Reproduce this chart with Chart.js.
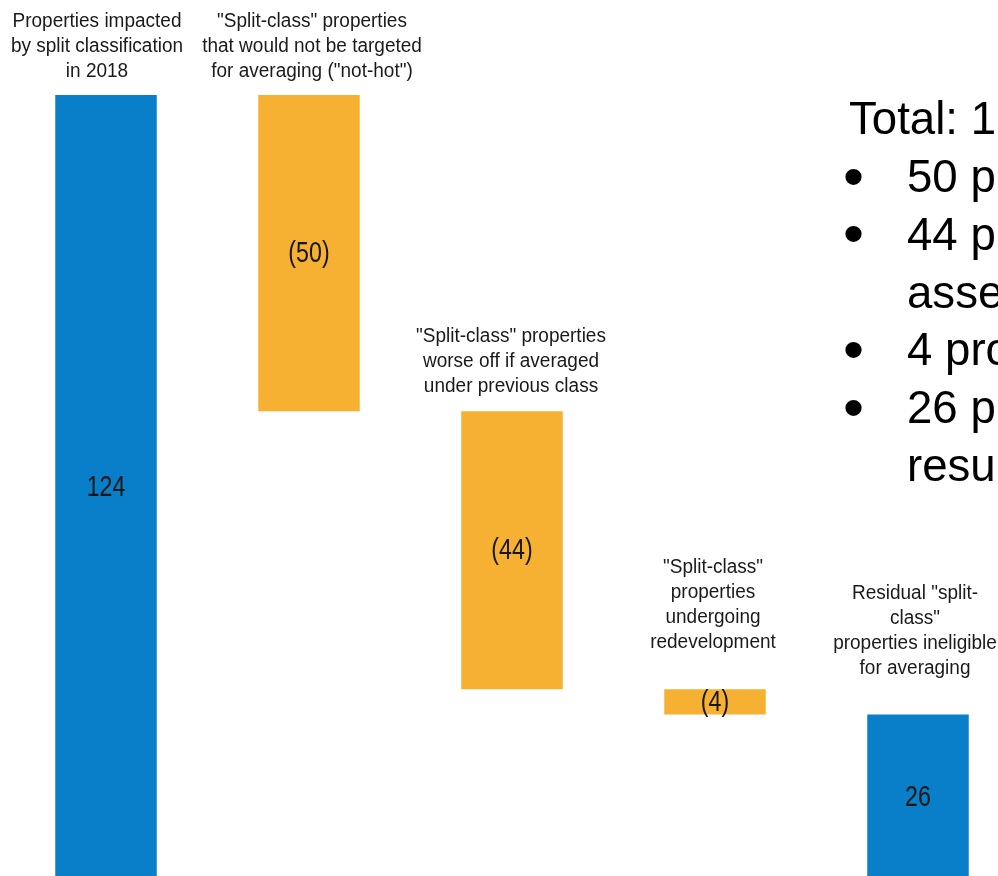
<!DOCTYPE html>
<html>
<head>
<meta charset="utf-8">
<title>Split-class properties</title>
<script src="https://cdn.jsdelivr.net/npm/chart.js@4/dist/chart.umd.min.js"></script>
<style>
  html, body { margin: 0; padding: 0; background: #fff; overflow: hidden; width: 998px; height: 876px; }
  #wrap { position: absolute; left: 0; top: 0; width: 1030px; height: 900px; }
  #notes { position: absolute; left: 0; top: 0; font-family: "Liberation Sans", Arial, sans-serif; color: #000; white-space: nowrap; }
  #notes .ln { position: absolute; font-size: 45.6px; line-height: 1; }
  #notes .dot { position: absolute; font-size: 60px; line-height: 1; }
</style>
</head>
<body>
<div id="wrap">
  <canvas id="waterfall" width="1030" height="900"></canvas>
</div>
<div id="notes"></div>

<script>
// categorias (linhas do rótulo acima de cada barra)
const categories = [
  ['Properties impacted', 'by split classification', 'in 2018'],
  ['"Split-class" properties', 'that would not be targeted', 'for averaging ("not-hot")'],
  ['"Split-class" properties', 'worse off if averaged', 'under previous class'],
  ['"Split-class"', 'properties', 'undergoing', 'redevelopment'],
  ['Residual "split-', 'class"', 'properties ineligible', 'for averaging']
];
const changes = [124, -50, -44, -4, 26];
const isTotal = [true, false, false, false, true];

// texto do quadro à direita
const noteLines = [
  { bullet: false, text: 'Total: 124 properties' },
  { bullet: true,  text: '50 properties not-hot' },
  { bullet: true,  text: '44 properties worse off' },
  { bullet: false, text: 'assessment' },
  { bullet: true,  text: '4 properties redeveloping' },
  { bullet: true,  text: '26 properties remaining' },
  { bullet: false, text: 'result' }
];

const COR_TOTAL = '#0a7fc9';
const COR_DELTA = '#f7b132';

// monta as barras flutuantes da cascata
let acumulado = 0;
const faixas = changes.map((v, i) => {
  if (isTotal[i]) { acumulado = v; return [0, v]; }
  const r = [acumulado, acumulado + v];
  acumulado += v;
  return r;
});

function formatValor(v) {
  return v < 0 ? '(' + Math.abs(v) + ')' : String(v);
}

// texto comprimido na horizontal (fonte "narrow")
function textoEstreito(ctx, txt, x, y, escala) {
  ctx.save();
  ctx.translate(x, y);
  ctx.scale(escala, 1);
  ctx.fillText(txt, 0, 0);
  ctx.restore();
}

// rótulos: categoria acima da barra e valor no meio
const rotulosCascata = {
  id: 'rotulosCascata',
  afterDatasetsDraw(chart, args, opts) {
    const ctx = chart.ctx;
    const meta = chart.getDatasetMeta(0);
    ctx.save();
    ctx.textAlign = 'center';
    meta.data.forEach((bar, i) => {
      const topo = Math.min(bar.y, bar.base);
      const meio = (bar.y + bar.base) / 2;

      // valor
      ctx.fillStyle = '#161616';
      ctx.font = '29px "Liberation Sans", Arial, sans-serif';
      ctx.textBaseline = 'middle';
      textoEstreito(ctx, formatValor(changes[i]), bar.x, meio + 1, 0.8);

      // categoria
      ctx.fillStyle = '#1a1a1a';
      ctx.textBaseline = 'alphabetic';
      ctx.font = '20px "Liberation Sans", Arial, sans-serif';
      const linhas = categories[i];
      const ultima = topo - opts.gap[i];
      linhas.forEach((txt, k) => {
        const y = ultima - (linhas.length - 1 - k) * opts.lineHeight;
        textoEstreito(ctx, txt, bar.x + opts.dx[i], y, 0.95);
      });
    });
    ctx.restore();
  }
};

new Chart(document.getElementById('waterfall').getContext('2d'), {
  type: 'bar',
  data: {
    labels: categories,
    datasets: [{
      data: faixas,
      backgroundColor: isTotal.map(t => t ? COR_TOTAL : COR_DELTA),
      borderWidth: 0,
      borderSkipped: false,
      categoryPercentage: 0.5,
      barPercentage: 1
    }]
  },
  options: {
    responsive: false,
    animation: false,
    layout: { padding: { left: 4.5, right: 10.5, top: 95, bottom: 21 } },
    scales: {
      x: { display: false },
      y: { display: false, min: 0, max: 124 }
    },
    plugins: {
      legend: { display: false },
      tooltip: { enabled: false },
      rotulosCascata: {
        gap: [18, 18, 19, 41, 41],
        dx: [-9, 3, -1, -2, -3],
        lineHeight: 25
      }
    }
  },
  plugins: [rotulosCascata]
});

// quadro de texto à direita
const notas = document.getElementById('notes');
noteLines.forEach((l, i) => {
  const base = 135 + i * 57.7;
  const span = document.createElement('span');
  span.className = 'ln';
  span.textContent = l.text;
  span.style.left = i === 0 ? '849px' : '907px';
  span.style.top = (base - 38.6) + 'px';
  notas.appendChild(span);
  if (l.bullet) {
    const b = document.createElement('span');
    b.className = 'dot';
    b.textContent = '\u2022';
    b.style.left = '843px';
    b.style.top = (base - 46) + 'px';
    notas.appendChild(b);
  }
});
</script>
</body>
</html>
